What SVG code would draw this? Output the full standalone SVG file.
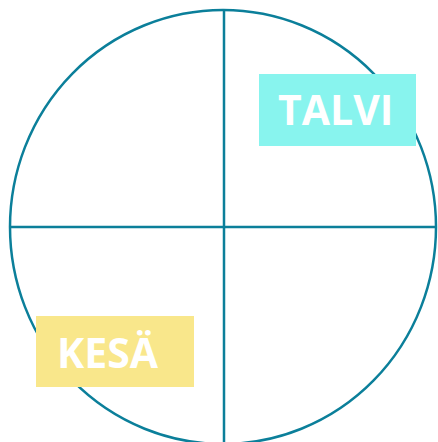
<svg xmlns="http://www.w3.org/2000/svg" width="438" height="442" viewBox="0 0 438 442">
<style>
.ln{fill:none;stroke:#0B7F9A;stroke-width:2.5}
.lbl{font-family:"Open Sans","Noto Sans",sans-serif;font-weight:bold;font-size:41px;fill:#fff}
</style>
<rect width="438" height="442" fill="#fff"/>
<g id="connectors">
<ellipse class="ln" cx="223" cy="227" rx="213" ry="217"/>
<line class="ln" x1="10" y1="227" x2="436" y2="227"/>
<line class="ln" x1="224" y1="10" x2="224" y2="442"/>
</g>
<g id="talvi">
<rect x="259" y="74" width="157" height="72" fill="#88F4EE"/>
<text class="lbl" x="278" y="124.5">TALVI</text>
</g>
<g id="kesa">
<rect x="36" y="316" width="158" height="71" fill="#F9E78B"/>
<text class="lbl" x="57" y="367.5">KESÄ</text>
</g>
</svg>
